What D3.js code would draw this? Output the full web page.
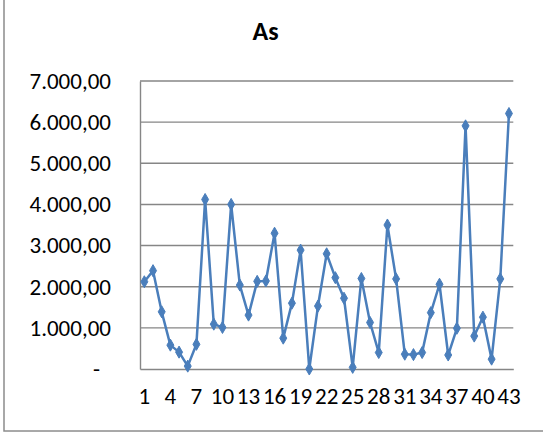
<!DOCTYPE html>
<html>
<head>
<meta charset="utf-8">
<script src="https://cdn.jsdelivr.net/npm/d3@7"></script>
<style>
  html, body { margin: 0; padding: 0; background: #fff; }
  svg { display: block; }
  text { font-family: Carlito, Calibri, Lato, "Open Sans", sans-serif; fill: #000; }
</style>
</head>
<body>
<svg id="chart" width="543" height="443"></svg>
<script>
const title = "As";
const categories = d3.range(1, 44).map(String);
const values = [
  2120, 2390, 1390, 580, 410, 70, 600, 4120, 1090, 1010,
  4000, 2040, 1310, 2130, 2140, 3300, 750, 1600, 2890, 0,
  1530, 2800, 2220, 1720, 40, 2200, 1130, 400, 3500, 2190,
  360, 350, 400, 1370, 2060, 340, 990, 5910, 800, 1260,
  240, 2190, 6210
];
const yTicks = [0, 1000, 2000, 3000, 4000, 5000, 6000, 7000];
const xTickLabels = categories.filter((d, i) => i % 3 === 0);

const svg = d3.select("#chart");
const plotLeft = 140, plotRight = 513.3, plotTop = 81, plotBottom = 369;

// outer chart border
svg.append("rect")
  .attr("x", 4).attr("y", -2).attr("width", 545).attr("height", 433)
  .attr("fill", "none").attr("stroke", "#8c8c8c").attr("stroke-width", 1.5);

const x = d3.scaleBand().domain(categories).range([plotLeft, plotRight]).paddingInner(0).paddingOuter(0);
const y = d3.scaleLinear().domain([0, 7000]).range([plotBottom, plotTop]);

const locale = d3.formatLocale({ decimal: ",", thousands: ".", grouping: [3], currency: ["", ""] });
const fmt = locale.format(",.2f");

// gridlines
svg.append("g").selectAll("line").data(yTicks.filter(d => d > 0)).join("line")
  .attr("x1", plotLeft).attr("x2", plotRight)
  .attr("y1", d => y(d)).attr("y2", d => y(d))
  .attr("stroke", "#868686").attr("stroke-width", 1.4);

// y axis
const yAxis = svg.append("g").attr("transform", `translate(${plotLeft},0)`)
  .call(d3.axisLeft(y).tickValues(yTicks).tickSize(0).tickPadding(29)
    .tickFormat(d => d === 0 ? "-" : fmt(d)));
yAxis.select(".domain").attr("stroke", "#868686").attr("stroke-width", 1.4);
yAxis.selectAll("text").attr("font-size", 23).attr("fill", "#000")
  .attr("dx", d => d === 0 ? -11 : 0);

// x axis
const xAxis = svg.append("g").attr("transform", `translate(0,${plotBottom})`)
  .call(d3.axisBottom(x).tickValues(xTickLabels).tickSize(0).tickPadding(19));
xAxis.select(".domain").attr("stroke", "#868686").attr("stroke-width", 1.4);
xAxis.selectAll("text").attr("font-size", 23).attr("fill", "#000");

// line
const cx = (d, i) => x(categories[i]) + x.bandwidth() / 2;
const line = d3.line().x((d, i) => cx(d, i)).y(d => y(d));
svg.append("path").datum(values)
  .attr("d", line).attr("fill", "none")
  .attr("stroke", "#4a7ebb").attr("stroke-width", 2.5).attr("stroke-linejoin", "round");

// markers
const diamond = d3.symbol().type(d3.symbolDiamond).size(42);
svg.append("g").selectAll("path").data(values).join("path")
  .attr("d", diamond)
  .attr("transform", (d, i) => `translate(${cx(d, i)},${y(d)})`)
  .attr("fill", "#4a7ebb").attr("stroke", "#4a7ebb").attr("stroke-width", 1);

// title
svg.append("text").attr("x", 265.5).attr("y", 40)
  .attr("text-anchor", "middle").attr("font-size", 26).attr("font-weight", "bold")
  .text(title);
</script>
</body>
</html>
